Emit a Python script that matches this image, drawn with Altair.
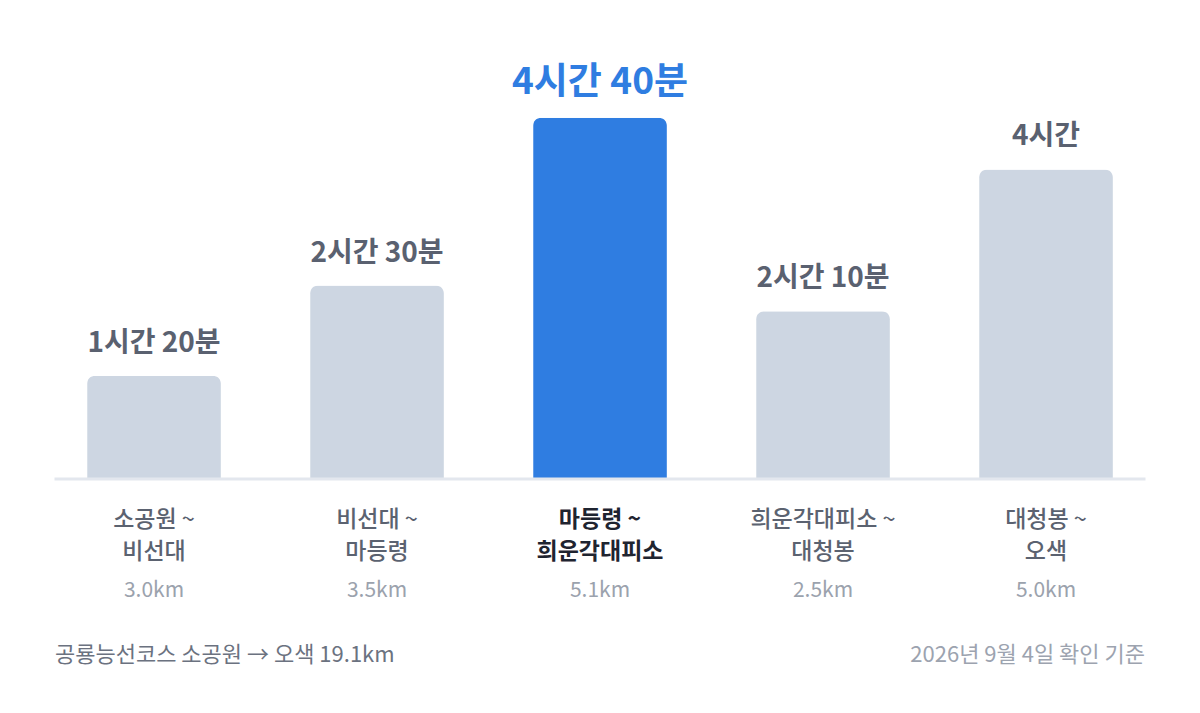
import altair as alt
import pandas as pd

segments = ["S1", "S2", "S3", "S4", "S5"]
minutes = [80, 150, 280, 130, 240]
time_labels = ["1시간 20분", "2시간 30분", "4시간 40분", "2시간 10분", "4시간"]
line1 = ["소공원 ~", "비선대 ~", "마등령 ~", "희운각대피소 ~", "대청봉 ~"]
line2 = ["비선대", "마등령", "희운각대피소", "대청봉", "오색"]
distances = ["3.0km", "3.5km", "5.1km", "2.5km", "5.0km"]
highlight = [False, False, True, False, False]

footer_left = "공룡능선코스 소공원 → 오색 19.1km"
footer_right = "2026년 9월 4일 확인 기준"

df = pd.DataFrame({
    "seg": segments, "min": minutes, "tl": time_labels,
    "l1": line1, "l2": line2, "km": distances, "hl": highlight,
})

FONT = "Noto Sans CJK KR"
W, H = 1115, 387
GRAY_BAR = "#cdd6e2"
BLUE = "#2f7de1"
DARK = "#5a6170"

x = alt.X("seg:N", sort=segments, axis=None,
          scale=alt.Scale(paddingInner=0.4, paddingOuter=0.2))
y = alt.Y("min:Q", axis=None, scale=alt.Scale(domain=[0, 300], nice=False, zero=True))

base = alt.Chart(df)

bars = base.mark_bar(cornerRadiusTopLeft=8, cornerRadiusTopRight=8).encode(
    x=x, y=y,
    color=alt.condition("datum.hl", alt.value(BLUE), alt.value(GRAY_BAR)),
)

vals = base.mark_text(font=FONT, fontWeight="bold", baseline="alphabetic", dy=-24).encode(
    x=x, y=y, text="tl:N",
    size=alt.condition("datum.hl", alt.value(37), alt.value(28)),
    color=alt.condition("datum.hl", alt.value(BLUE), alt.value(DARK)),
)

def cat_layer(field, ypos, weight, color, size, filt):
    return base.transform_filter(filt).mark_text(
        font=FONT, fontWeight=weight, baseline="middle", fontSize=size, color=color
    ).encode(x=x, text=f"{field}:N", y=alt.value(ypos))

l1n = cat_layer("l1", 428, 500, "#5b6270", 23, "!datum.hl")
l2n = cat_layer("l2", 460, 500, "#5b6270", 23, "!datum.hl")
l1h = cat_layer("l1", 428, "bold", "#1f2430", 23, "datum.hl")
l2h = cat_layer("l2", 460, "bold", "#1f2430", 23, "datum.hl")
kms = base.mark_text(font=FONT, baseline="middle", fontSize=21, color="#9ba2ad").encode(
    x=x, text="km:N", y=alt.value(499))

baseline_rule = alt.Chart(pd.DataFrame({"v": [0]})).mark_rule(
    color="#e3e7ee", strokeWidth=3).encode(
    x=alt.value(12), x2=alt.value(1103), y=alt.Y("v:Q", scale=alt.Scale(domain=[0, 300]), axis=None))

foot_l = alt.Chart(pd.DataFrame({"t": [footer_left]})).mark_text(
    font=FONT, fontSize=22, color="#6b7280", align="left", baseline="middle").encode(
    x=alt.value(12.5), y=alt.value(563), text="t:N")
foot_r = alt.Chart(pd.DataFrame({"t": [footer_right]})).mark_text(
    font=FONT, fontSize=22, color="#9ca3af", align="right", baseline="middle").encode(
    x=alt.value(1102.5), y=alt.value(563), text="t:N")

chart = alt.layer(bars, baseline_rule, vals, l1n, l2n, l1h, l2h, kms, foot_l, foot_r).properties(
    width=W, height=H,
    autosize=alt.AutoSizeParams(type="none"),
    padding={"left": 34.5, "top": 84, "right": 34.5, "bottom": 226},
    background="white",
).configure_view(stroke=None)

chart.save("out.html", embed_options={"renderer": "svg", "actions": False})
